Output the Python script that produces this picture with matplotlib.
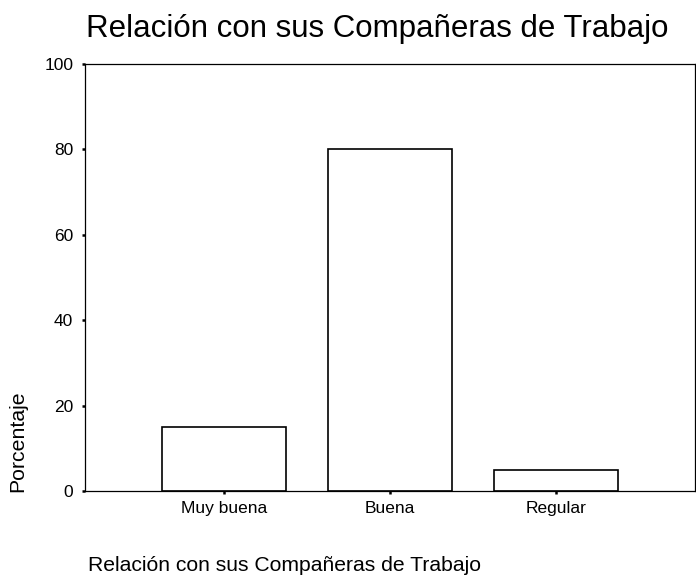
import matplotlib
matplotlib.use("Agg")
import matplotlib.pyplot as plt

categories = ["Muy buena", "Buena", "Regular"]
values = [15, 80, 5]
yticks = [0, 20, 40, 60, 80, 100]
title = "Relación con sus Compañeras de Trabajo"
xlabel = "Relación con sus Compañeras de Trabajo"
ylabel = "Porcentaje"

plt.rcParams['font.family'] = ['Liberation Sans', 'DejaVu Sans']

W, H = 696, 575
fig = plt.figure(figsize=(W/100, H/100), dpi=100)
ax = fig.add_axes([85/W, 1-491/H, (695-85)/W, (491-64)/H])

pos = [1, 2, 3]
ax.bar(pos, values, width=0.743, color='white', edgecolor='black', linewidth=1.2)
ax.set_xlim(0.165, 3.835)
ax.set_ylim(0, 100)
ax.set_xticks(pos)
ax.set_xticklabels(categories, fontsize=12.5)
ax.set_yticks(yticks)
ax.set_yticklabels([str(t) for t in yticks], fontsize=12.5)
ax.tick_params(direction='out', length=2.5, width=1.8)
ax.tick_params(axis='y', pad=6)
ax.tick_params(axis='x', pad=5)
for s in ax.spines.values():
    s.set_linewidth(0.9)

fig.text(377/W, 1-37/H, title, ha='center', va='baseline', fontsize=22.5)
fig.text(88/W, 1-571/H, xlabel, ha='left', va='baseline', fontsize=15.2)
fig.text(18/W, 1-492/H, ylabel, ha='center', va='bottom', rotation=90, fontsize=15.3)

fig.savefig("out.png", dpi=100, facecolor='white')
